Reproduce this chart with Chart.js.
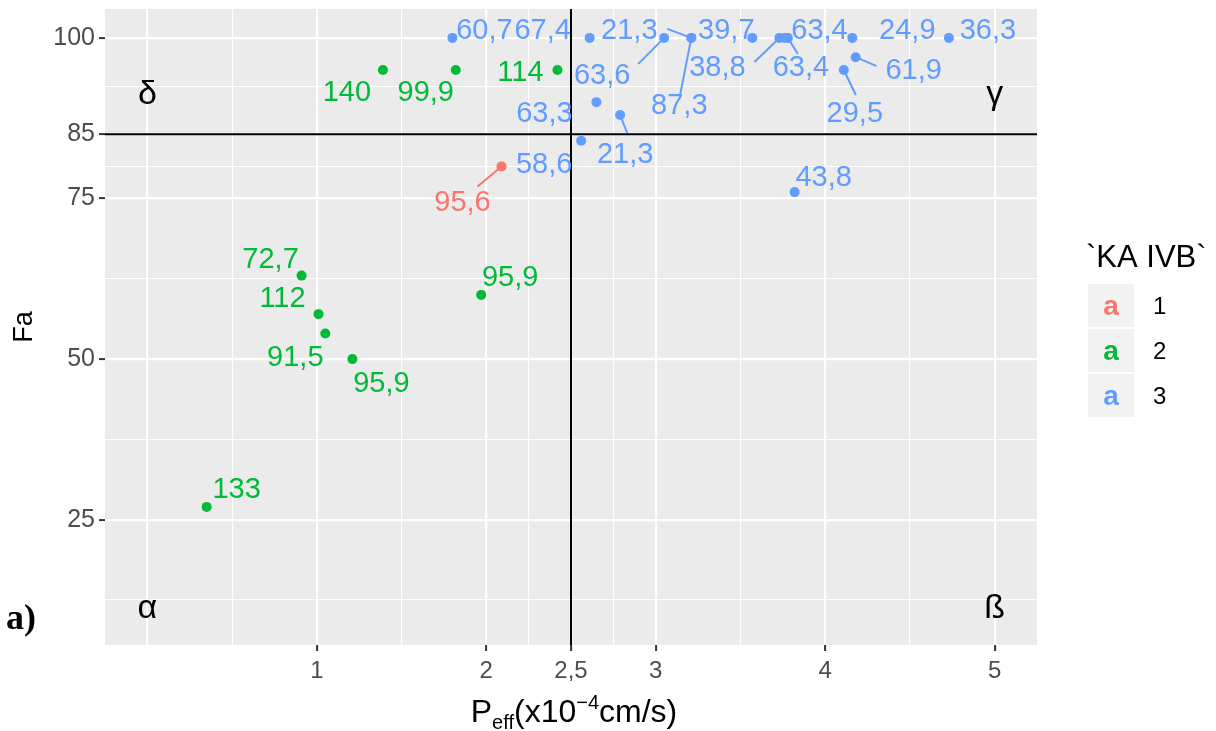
<!DOCTYPE html>
<html>
<head>
<meta charset="utf-8">
<script src="https://cdn.jsdelivr.net/npm/chart.js@4.4.0/dist/chart.umd.min.js"></script>
<style>
    html, body { margin: 0; padding: 0; background: #ffffff; }
    #caixa { width: 1216px; height: 731px; }
</style>
</head>
<body>
<div id="caixa"><canvas id="grafico" width="1216" height="731"></canvas></div>
<script>
// dados (Peff x Fa), por grupo de KA IVB
const grupos = ['1', '2', '3'];
const cores = ['#F8766D', '#00BA38', '#619CFF'];

const peff1 = [2.09];
const fa1 = [80];
const rotulos1 = ['95,6'];

const peff2 = [1.39, 1.82, 2.42, 0.91, 1.01, 1.05, 1.21, 1.97, 0.35];
const fa2 = [95, 95, 95, 63, 57, 54, 50, 60, 27];
const rotulos2 = ['140', '99,9', '114', '72,7', '112', '91,5', '95,9', '95,9', '133'];

const peff3 = [1.80, 2.61, 3.05, 3.21, 3.21, 3.57, 3.73, 3.78, 3.76, 4.16, 4.73, 4.18, 4.11, 2.65, 2.79, 2.56, 3.82];
const fa3 = [100, 100, 100, 100, 100, 100, 100, 100, 100, 100, 100, 97, 95, 90, 88, 84, 76];
const rotulos3 = ['60,7', '67,4', '63,6', '21,3', '87,3', '39,7', '38,8', '63,4', '63,4', '24,9', '36,3', '61,9', '29,5', '63,3', '21,3', '58,6', '43,8'];

// eixos
const xBreaks = [0, 0.5, 1, 1.5, 2, 2.25, 2.5, 2.75, 3, 3.5, 4, 4.5, 5];
const xMaiores = [0, 1, 2, 2.5, 3, 4, 5];
const xRotulados = [1, 2, 2.5, 3, 4, 5];
const yBreaks = [12.5, 25, 37.5, 50, 62.5, 75, 80, 85, 92.5, 100];
const yMaiores = [25, 50, 75, 85, 100];
const yRotulados = [25, 50, 75, 85, 100];

// linhas de corte e quadrantes
const corteX = 2.5;
const corteY = 85;
const quadrantes = [
    { texto: 'δ', x: 0, y: 90 },
    { texto: 'γ', x: 5, y: 90 },
    { texto: 'α', x: 0, y: 10 },
    { texto: 'ß', x: 5, y: 10 }
];

// deslocamento dos rotulos (px, relativo ao ponto) e inicio das linhas guia
const desloc = [
    [[-39, 35]],
    [[-36, 21], [-30, 21], [-37, 1], [-31, -18], [-36, -17], [-30, 23], [29, 23], [29, -19], [30, -19]],
    [[32, -9], [-47, -9], [-62, 36], [-62, -9], [-12, 66], [-26, -9], [-62, 28], [13, 28], [35, -9],
     [55, -9], [39, -9], [58, 12], [11, 42], [-52, 10], [5, 38], [-37, 22], [29, -16]]
];
const guias = [
    [[-24, 20]],
    [null, null, null, null, null, null, null, null, null],
    [null, null, [-26, 26], [-24, -9], [-11, 56], null, [-25, 24], [10, 16], null,
     null, null, [21, 9], [12, 25], null, [7, 18], null, null]
];

const peffs = [peff1, peff2, peff3];
const fas = [fa1, fa2, fa3];
const rotulos = [rotulos1, rotulos2, rotulos3];

const fonte = '"Liberation Sans", Arial, sans-serif';
const virgula = v => String(v).replace('.', ',');

const datasets = grupos.map((g, i) => ({
    label: g,
    data: peffs[i].map((x, j) => ({ x: x, y: fas[i][j] })),
    backgroundColor: cores[i],
    borderWidth: 0,
    pointRadius: 5,
    pointHoverRadius: 5
}));

const decoracao = {
    id: 'decoracao',
    beforeDraw(chart) {
        const { ctx, chartArea: a } = chart;
        ctx.save();
        ctx.fillStyle = '#EBEBEB';
        ctx.fillRect(a.left, a.top, a.right - a.left, a.bottom - a.top);
        ctx.restore();
    },
    beforeDatasetsDraw(chart) {
        const { ctx, chartArea: a, scales } = chart;
        ctx.save();
        ctx.strokeStyle = '#000';
        ctx.lineWidth = 2;
        const px = scales.x.getPixelForValue(corteX);
        const py = scales.y.getPixelForValue(corteY);
        ctx.beginPath();
        ctx.moveTo(px, a.top); ctx.lineTo(px, a.bottom);
        ctx.moveTo(a.left, py); ctx.lineTo(a.right, py);
        ctx.stroke();
        ctx.fillStyle = '#000';
        ctx.font = '34px ' + fonte;
        ctx.textAlign = 'center';
        ctx.textBaseline = 'alphabetic';
        quadrantes.forEach(q => {
            ctx.fillText(q.texto, scales.x.getPixelForValue(q.x), scales.y.getPixelForValue(q.y) + 2);
        });
        ctx.restore();
    },
    afterDatasetsDraw(chart) {
        const { ctx } = chart;
        ctx.save();
        ctx.font = '29px ' + fonte;
        ctx.textAlign = 'center';
        ctx.textBaseline = 'alphabetic';
        chart.data.datasets.forEach((ds, i) => {
            const meta = chart.getDatasetMeta(i);
            meta.data.forEach((p, j) => {
                const g = guias[i][j];
                if (g) {
                    ctx.strokeStyle = cores[i];
                    ctx.lineWidth = 2;
                    ctx.beginPath();
                    ctx.moveTo(p.x + g[0], p.y + g[1]);
                    ctx.lineTo(p.x, p.y);
                    ctx.stroke();
                }
            });
            meta.data.forEach((p, j) => {
                const d = desloc[i][j];
                ctx.fillStyle = cores[i];
                ctx.fillText(rotulos[i][j], p.x + d[0], p.y + d[1] + 10);
            });
        });
        ctx.restore();
    },
    afterDraw(chart) {
        const { ctx, chartArea: a } = chart;
        ctx.save();
        // titulo do eixo x com subscrito e sobrescrito
        const partes = [
            { t: 'P', s: 32, dy: 0 },
            { t: 'eff', s: 20, dy: 7 },
            { t: '(x10', s: 32, dy: 0 },
            { t: '−4', s: 20, dy: -13 },
            { t: 'cm/s)', s: 32, dy: 0 }
        ];
        let larg = 0;
        partes.forEach(p => { ctx.font = p.s + 'px ' + fonte; p.w = ctx.measureText(p.t).width; larg += p.w; });
        let x = 574 - larg / 2;
        ctx.fillStyle = '#000';
        ctx.textBaseline = 'alphabetic';
        ctx.textAlign = 'left';
        partes.forEach(p => {
            ctx.font = p.s + 'px ' + fonte;
            ctx.fillText(p.t, x, 722 + p.dy);
            x += p.w;
        });
        // titulo do eixo y
        ctx.save();
        ctx.translate(32, (a.top + a.bottom) / 2);
        ctx.rotate(-Math.PI / 2);
        ctx.textAlign = 'center';
        ctx.font = '27px ' + fonte;
        ctx.fillText('Fa', 0, 0);
        ctx.restore();
        // marcador do painel
        ctx.font = 'bold 36px "Liberation Serif", "Times New Roman", serif';
        ctx.textAlign = 'left';
        ctx.fillText('a)', 6, 629);
        // legenda
        ctx.font = '31px ' + fonte;
        ctx.fillText('`KA IVB`', 1086, 267);
        chart.data.datasets.forEach((ds, i) => {
            const top = 284 + i * 45;
            ctx.fillStyle = '#F2F2F2';
            ctx.fillRect(1088, top, 46, 43);
            ctx.fillStyle = ds.backgroundColor;
            ctx.font = 'bold 28px ' + fonte;
            ctx.textAlign = 'center';
            ctx.fillText('a', 1111, top + 31);
            ctx.fillStyle = '#000';
            ctx.font = '24px ' + fonte;
            ctx.textAlign = 'left';
            ctx.fillText(ds.label, 1153, top + 30);
        });
        ctx.restore();
    }
};

const ctx = document.getElementById('grafico').getContext('2d');
new Chart(ctx, {
    type: 'scatter',
    data: { datasets: datasets },
    options: {
        responsive: false,
        animation: false,
        devicePixelRatio: 1,
        layout: { padding: { left: 0, right: 179, top: 9, bottom: 0 } },
        plugins: { legend: { display: false }, tooltip: { enabled: false } },
        scales: {
            x: {
                type: 'linear',
                min: -0.25,
                max: 5.25,
                afterBuildTicks: s => { s.ticks = xBreaks.map(v => ({ value: v })); },
                afterFit: s => { s.height = 86; s.paddingLeft = 0; s.paddingRight = 0; },
                border: { display: false },
                grid: {
                    color: '#FFFFFF',
                    lineWidth: c => (c.tick && xMaiores.includes(c.tick.value)) ? 2.2 : 1.1,
                    tickLength: 6,
                    tickWidth: 2,
                    tickColor: c => (c.tick && xRotulados.includes(c.tick.value)) ? '#333333' : 'rgba(0,0,0,0)'
                },
                ticks: {
                    autoSkip: false,
                    maxRotation: 0,
                    minRotation: 0,
                    padding: 6,
                    color: '#4D4D4D',
                    font: { family: fonte, size: 24 },
                    callback: v => xRotulados.includes(v) ? virgula(v) : ''
                }
            },
            y: {
                type: 'linear',
                min: 5.5,
                max: 104.5,
                afterBuildTicks: s => { s.ticks = yBreaks.map(v => ({ value: v })); },
                afterFit: s => { s.width = 105; s.paddingTop = 0; s.paddingBottom = 0; },
                border: { display: false },
                grid: {
                    color: '#FFFFFF',
                    lineWidth: c => (c.tick && yMaiores.includes(c.tick.value)) ? 2.2 : 1.1,
                    tickLength: 6,
                    tickWidth: 2,
                    tickColor: c => (c.tick && yRotulados.includes(c.tick.value)) ? '#333333' : 'rgba(0,0,0,0)'
                },
                ticks: {
                    autoSkip: false,
                    padding: 4,
                    color: '#4D4D4D',
                    font: { family: fonte, size: 25 },
                    callback: v => yRotulados.includes(v) ? virgula(v) : ''
                }
            }
        }
    },
    plugins: [decoracao]
});
</script>
</body>
</html>
